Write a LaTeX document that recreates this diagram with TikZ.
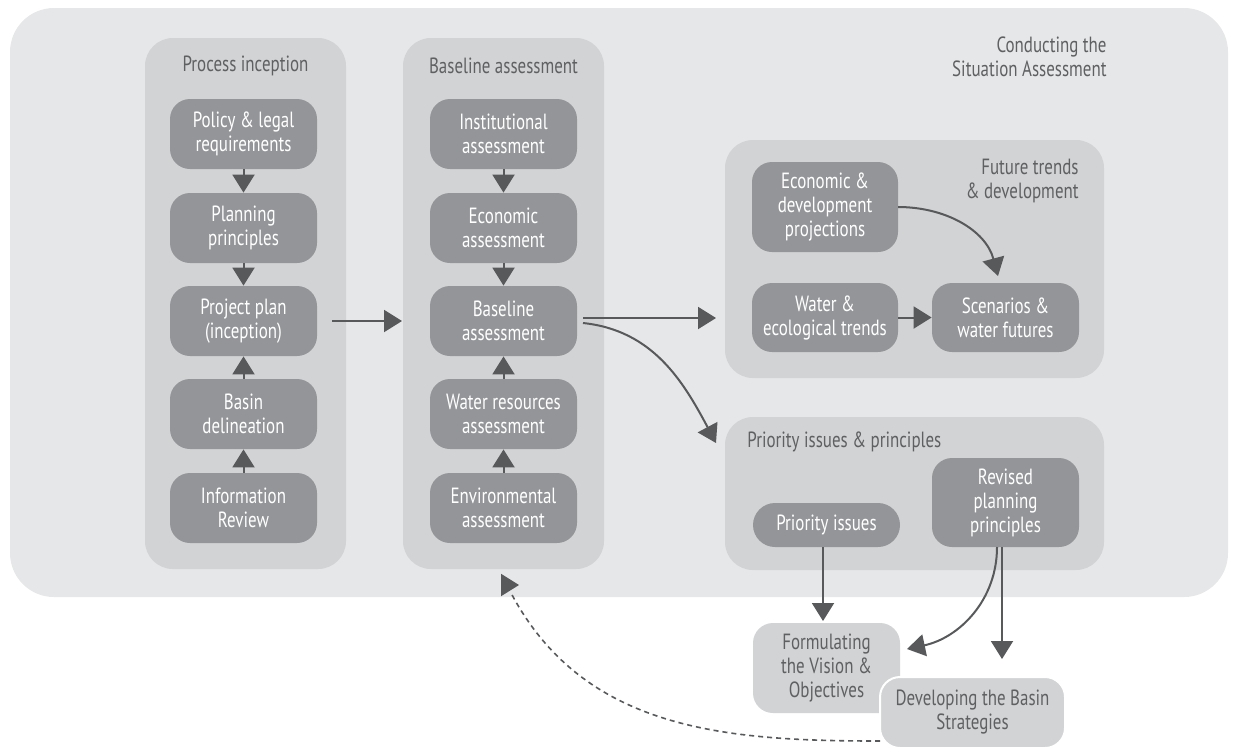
\documentclass[tikz,border=0pt]{standalone}
\usepackage{fontspec}
\setmainfont[FakeStretch=0.77]{PT Sans}
\usetikzlibrary{arrows.meta}
\definecolor{outerbg}{HTML}{E6E7E8}
\definecolor{colbg}{HTML}{D1D3D4}
\definecolor{boxdark}{HTML}{939598}
\definecolor{arrowc}{HTML}{58595B}
\definecolor{textdark}{HTML}{5F6062}
\begin{document}
\begin{tikzpicture}[x=0.5pt,y=-0.5pt,
  font=\fontsize{11}{12}\selectfont,
  panel/.style={fill=colbg, rounded corners=14pt, inner sep=0pt},
  darkbox/.style={fill=boxdark, text=white, rounded corners=10pt, inner sep=0pt,
    minimum width=73.5pt, minimum height=35pt, align=center},
  lightbox/.style={fill=colbg, text=textdark, rounded corners=10pt, inner sep=0pt,
    minimum width=73.5pt, minimum height=45pt, align=center},
  title/.style={text=textdark, inner sep=0pt},
  arr/.style={draw=arrowc, line width=1pt, -{Triangle[width=11pt,length=9pt]}, color=arrowc},
  dashline/.style={draw=arrowc, line width=0.8pt, dash pattern=on 2.5pt off 2pt}
]
\useasboundingbox (0,0) rectangle (1240,751);
% outer
\node[fill=outerbg, rounded corners=22pt, minimum width=609pt, minimum height=294.5pt, inner sep=0pt] (outer) at (619,302.5) {};
\node[title, anchor=east, align=right] (tconduct) at (1107,56.5) {Conducting the\\Situation Assessment};
% columns
\node[panel, minimum width=100.5pt, minimum height=265.5pt] (colA) at (245.5,303.5) {};
\node[panel, minimum width=100.5pt, minimum height=265.5pt] (colB) at (503.5,303.5) {};
\node[title] (tA) at (245.5,66) {Process inception};
\node[title] (tB) at (503.5,66) {Baseline assessment};
% column A boxes
\node[darkbox] (pol) at (243.5,134) {Policy \& legal\\requirements};
\node[darkbox] (pla) at (243.5,228) {Planning\\principles};
\node[darkbox] (prj) at (243.5,321) {Project plan\\(inception)};
\node[darkbox] (bsn) at (243.5,414) {Basin\\delineation};
\node[darkbox] (inf) at (243.5,508) {Information\\Review};
% column B boxes
\node[darkbox] (ins) at (503.5,134) {Institutional\\assessment};
\node[darkbox] (eco) at (503.5,228) {Economic\\assessment};
\node[darkbox] (bas) at (503.5,321) {Baseline\\assessment};
\node[darkbox] (wra) at (503.5,414) {Water resources\\assessment};
\node[darkbox] (env) at (503.5,508) {Environmental\\assessment};
% future panel
\node[panel, minimum width=189.5pt, minimum height=119pt] (fut) at (914.5,259) {};
\node[title, anchor=east, align=right] (tfut) at (1079,181) {Future trends\\\& development};
\node[darkbox, minimum width=73pt, minimum height=45pt] (edp) at (825,207) {Economic \&\\development\\projections};
\node[darkbox, minimum width=73pt, minimum height=34.5pt] (wet) at (825,317.5) {Water \&\\ecological trends};
\node[darkbox, minimum height=34.5pt] (scn) at (1005.5,317.5) {Scenarios \&\\water futures};
% priority panel
\node[panel, minimum width=189.5pt, minimum height=76.5pt] (pri) at (914.5,493.5) {};
\node[title, anchor=west] (tpri) at (747,442) {Priority issues \& principles};
\node[darkbox, minimum height=22pt, rounded corners=11pt] (pis) at (826.5,525) {Priority issues};
\node[darkbox, minimum height=44.5pt] (rev) at (1005.5,502.5) {Revised\\planning\\principles};
% bottom boxes
\node[lightbox] (frm) at (826.5,668) {Formulating\\the Vision \&\\Objectives};
\coordinate (dstart) at (880,741);
\coordinate (dmid) at (511,593);
\coordinate (dta) at (502,585);
\coordinate (dtb) at (519,585);
\draw[dashline] (dstart) to[out=180,in=-62] (dmid);
\draw[arr] (dta) -- (dtb);
\node[lightbox, draw=white, line width=1pt, minimum width=92.5pt, minimum height=35.5pt] (dev) at (972.5,712.5) {Developing the Basin\\Strategies};
% arrows column A
\draw[arr] (pol) -- (pla);
\draw[arr] (pla) -- (prj);
\draw[arr] (bsn) -- (prj);
\draw[arr] (inf) -- (bsn);
% arrows column B
\draw[arr] (ins) -- (eco);
\draw[arr] (eco) -- (bas);
\draw[arr] (wra) -- (bas);
\draw[arr] (env) -- (wra);
% cross arrows
\coordinate (pa) at (332,321);
\coordinate (pb) at (402,321);
\draw[arr] (pa) -- (pb);
\coordinate (ba) at (583,318);
\coordinate (bb) at (716,318);
\draw[arr] (ba) -- (bb);
\coordinate (bc) at (583,323);
\coordinate (bd) at (716,443);
\draw[arr] (bc) to[out=-6,in=118] (bd);
% future arrows
\coordinate (ea) at (898,207);
\coordinate (eb) at (998,276);
\draw[arr] (ea) to[out=0,in=105] (eb);
\draw[arr] (wet) -- (scn);
% priority arrows
\coordinate (pia) at (823,547);
\coordinate (pib) at (823,621);
\draw[arr] (pia) -- (pib);
\coordinate (ra) at (1002,547);
\coordinate (rb) at (1002,659);
\draw[arr] (ra) -- (rb);
\coordinate (rc) at (997,547);
\coordinate (rd) at (907,649);
\draw[arr] (rc) to[out=-90,in=12] (rd);
\end{tikzpicture}
\end{document}
